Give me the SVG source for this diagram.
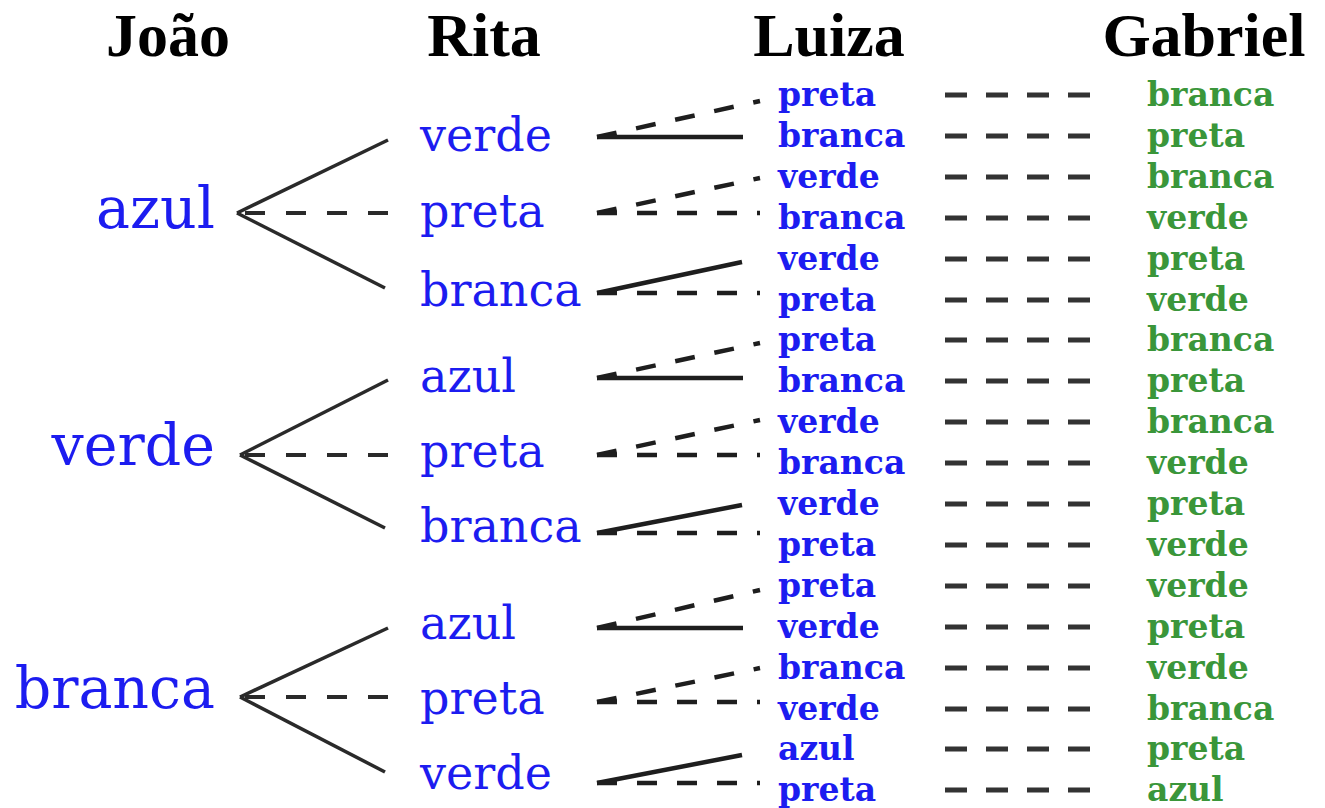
<svg xmlns="http://www.w3.org/2000/svg" width="1325" height="808" viewBox="0 0 1325 808">
<style>
.hdr{font-family:"Liberation Serif","Times New Roman",serif;font-weight:bold;font-size:62px;fill:#000;text-anchor:middle}
.j{font-family:"DejaVu Serif","Liberation Serif",serif;font-size:57px;fill:#1c1cf0;text-anchor:end}
.r{font-family:"DejaVu Serif","Liberation Serif",serif;font-size:46px;fill:#1c1cf0}
.l{font-family:"DejaVu Serif","Liberation Serif",serif;font-weight:bold;font-size:33px;fill:#1c1cf0}
.g{font-family:"DejaVu Serif","Liberation Serif",serif;font-weight:bold;font-size:33px;fill:#3a963a}
.s1{stroke:#2a2a2a;stroke-width:3.5;fill:none}
.d1{stroke:#2a2a2a;stroke-width:4;fill:none;stroke-dasharray:20 21}
.s2{stroke:#1e1e1e;stroke-width:4.5;fill:none}
.d2{stroke:#1e1e1e;stroke-width:4.5;fill:none;stroke-dasharray:20 20}
.d3{stroke:#333;stroke-width:5;fill:none;stroke-dasharray:22 19}
</style>
<rect width="1325" height="808" fill="#fff"/>
<g id="headers">
<g id="h-joao"><text class="hdr" x="168" y="56">João</text></g>
<g id="h-rita"><text class="hdr" x="484" y="56">Rita</text></g>
<g id="h-luiza"><text class="hdr" x="829" y="56">Luiza</text></g>
<g id="h-gabriel"><text class="hdr" x="1204" y="56">Gabriel</text></g>
</g>
<g id="connectors">
<line class="s1" x1="237" y1="213" x2="388" y2="140"/>
<line class="d1" x1="388" y1="213" x2="237" y2="213"/>
<line class="s1" x1="237" y1="213" x2="385" y2="288"/>
<line class="s1" x1="240" y1="455" x2="388" y2="380"/>
<line class="d1" x1="388" y1="455" x2="240" y2="455"/>
<line class="s1" x1="240" y1="455" x2="385" y2="528"/>
<line class="s1" x1="240" y1="697" x2="388" y2="628"/>
<line class="d1" x1="388" y1="697" x2="240" y2="697"/>
<line class="s1" x1="240" y1="697" x2="385" y2="772"/>
<line class="d2" x1="597" y1="137" x2="760" y2="101"/>
<line class="s2" x1="597" y1="137" x2="743" y2="137"/>
<line class="d2" x1="597" y1="213" x2="760" y2="178"/>
<line class="d2" x1="597" y1="213" x2="760" y2="213"/>
<line class="s2" x1="597" y1="293" x2="742" y2="262"/>
<line class="d2" x1="597" y1="293" x2="760" y2="293"/>
<line class="d2" x1="597" y1="378" x2="760" y2="343"/>
<line class="s2" x1="597" y1="378" x2="743" y2="378"/>
<line class="d2" x1="597" y1="455" x2="760" y2="420"/>
<line class="d2" x1="597" y1="455" x2="760" y2="455"/>
<line class="s2" x1="597" y1="533" x2="742" y2="505"/>
<line class="d2" x1="597" y1="533" x2="760" y2="533"/>
<line class="d2" x1="597" y1="628" x2="760" y2="590"/>
<line class="s2" x1="597" y1="628" x2="743" y2="628"/>
<line class="d2" x1="597" y1="702" x2="760" y2="668"/>
<line class="d2" x1="597" y1="702" x2="760" y2="702"/>
<line class="s2" x1="597" y1="783" x2="742" y2="755"/>
<line class="d2" x1="597" y1="783" x2="760" y2="783"/>
<line class="d3" x1="945" y1="95" x2="1090" y2="95"/>
<line class="d3" x1="945" y1="136" x2="1090" y2="136"/>
<line class="d3" x1="945" y1="177" x2="1090" y2="177"/>
<line class="d3" x1="945" y1="218" x2="1090" y2="218"/>
<line class="d3" x1="945" y1="259" x2="1090" y2="259"/>
<line class="d3" x1="945" y1="300" x2="1090" y2="300"/>
<line class="d3" x1="945" y1="340" x2="1090" y2="340"/>
<line class="d3" x1="945" y1="381" x2="1090" y2="381"/>
<line class="d3" x1="945" y1="422" x2="1090" y2="422"/>
<line class="d3" x1="945" y1="463" x2="1090" y2="463"/>
<line class="d3" x1="945" y1="504" x2="1090" y2="504"/>
<line class="d3" x1="945" y1="545" x2="1090" y2="545"/>
<line class="d3" x1="945" y1="586" x2="1090" y2="586"/>
<line class="d3" x1="945" y1="627" x2="1090" y2="627"/>
<line class="d3" x1="945" y1="668" x2="1090" y2="668"/>
<line class="d3" x1="945" y1="709" x2="1090" y2="709"/>
<line class="d3" x1="945" y1="749" x2="1090" y2="749"/>
<line class="d3" x1="945" y1="790" x2="1090" y2="790"/>
</g>
<g id="joao">
<g id="j1"><text class="j" x="215" y="228">azul</text></g>
<g id="j2"><text class="j" x="215" y="465">verde</text></g>
<g id="j3"><text class="j" x="215" y="708">branca</text></g>
</g>
<g id="rita">
<g id="r1"><text class="r" x="420" y="151">verde</text></g>
<g id="r2"><text class="r" x="420" y="227">preta</text></g>
<g id="r3"><text class="r" x="420" y="306">branca</text></g>
<g id="r4"><text class="r" x="420" y="392">azul</text></g>
<g id="r5"><text class="r" x="420" y="467">preta</text></g>
<g id="r6"><text class="r" x="420" y="542">branca</text></g>
<g id="r7"><text class="r" x="420" y="639">azul</text></g>
<g id="r8"><text class="r" x="420" y="714">preta</text></g>
<g id="r9"><text class="r" x="420" y="789">verde</text></g>
</g>
<g id="luiza">
<g id="l1"><text class="l" x="778" y="106">preta</text></g>
<g id="l2"><text class="l" x="778" y="147">branca</text></g>
<g id="l3"><text class="l" x="778" y="188">verde</text></g>
<g id="l4"><text class="l" x="778" y="229">branca</text></g>
<g id="l5"><text class="l" x="778" y="270">verde</text></g>
<g id="l6"><text class="l" x="778" y="311">preta</text></g>
<g id="l7"><text class="l" x="778" y="351">preta</text></g>
<g id="l8"><text class="l" x="778" y="392">branca</text></g>
<g id="l9"><text class="l" x="778" y="433">verde</text></g>
<g id="l10"><text class="l" x="778" y="474">branca</text></g>
<g id="l11"><text class="l" x="778" y="515">verde</text></g>
<g id="l12"><text class="l" x="778" y="556">preta</text></g>
<g id="l13"><text class="l" x="778" y="597">preta</text></g>
<g id="l14"><text class="l" x="778" y="638">verde</text></g>
<g id="l15"><text class="l" x="778" y="679">branca</text></g>
<g id="l16"><text class="l" x="778" y="720">verde</text></g>
<g id="l17"><text class="l" x="778" y="760">azul</text></g>
<g id="l18"><text class="l" x="778" y="801">preta</text></g>
</g>
<g id="gabriel">
<g id="g1"><text class="g" x="1147" y="106">branca</text></g>
<g id="g2"><text class="g" x="1147" y="147">preta</text></g>
<g id="g3"><text class="g" x="1147" y="188">branca</text></g>
<g id="g4"><text class="g" x="1147" y="229">verde</text></g>
<g id="g5"><text class="g" x="1147" y="270">preta</text></g>
<g id="g6"><text class="g" x="1147" y="311">verde</text></g>
<g id="g7"><text class="g" x="1147" y="351">branca</text></g>
<g id="g8"><text class="g" x="1147" y="392">preta</text></g>
<g id="g9"><text class="g" x="1147" y="433">branca</text></g>
<g id="g10"><text class="g" x="1147" y="474">verde</text></g>
<g id="g11"><text class="g" x="1147" y="515">preta</text></g>
<g id="g12"><text class="g" x="1147" y="556">verde</text></g>
<g id="g13"><text class="g" x="1147" y="597">verde</text></g>
<g id="g14"><text class="g" x="1147" y="638">preta</text></g>
<g id="g15"><text class="g" x="1147" y="679">verde</text></g>
<g id="g16"><text class="g" x="1147" y="720">branca</text></g>
<g id="g17"><text class="g" x="1147" y="760">preta</text></g>
<g id="g18"><text class="g" x="1147" y="801">azul</text></g>
</g>
</svg>
